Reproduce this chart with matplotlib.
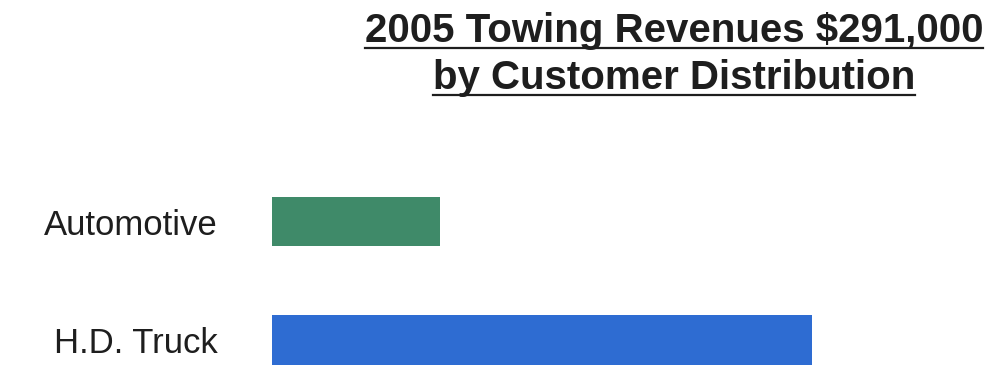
import matplotlib
matplotlib.use("Agg")
import matplotlib.pyplot as plt
from matplotlib.lines import Line2D

# data
categories = ["Automotive", "H.D. Truck"]
revenues = [69000, 222000]
bar_colors = ["#3f8a69", "#2e6cd2"]

title_lines = ["2005 Towing Revenues $291,000", "by Customer Distribution"]

plt.rcParams["font.family"] = ["Liberation Sans", "DejaVu Sans"]

fig = plt.figure(figsize=(9.93, 3.67), dpi=100)
ax = fig.add_axes([272 / 993, 0, 1 - 272 / 993, 200 / 367])

ax.barh(range(len(categories)), revenues, height=0.42, color=bar_colors)
ax.set_xlim(0, 296400)
ax.set_ylim(1.228, -0.46)
ax.set_yticks(range(len(categories)))
ax.set_yticklabels(categories, fontsize=25, color="#1e1e1e")
ax.tick_params(axis="y", length=0, pad=39)
ax.set_xticks([])
for s in ax.spines.values():
    s.set_visible(False)

# title with underlines
baselines = [1 - 42 / 367, 1 - 89 / 367]
renderer = fig.canvas.get_renderer()
for txt, yb in zip(title_lines, baselines):
    t = fig.text(0.679, yb, txt, ha="center", va="baseline", fontsize=29,
                 fontweight="bold", color="#1e1e1e")
    bb = t.get_window_extent(renderer=renderer).transformed(fig.transFigure.inverted())
    uy = yb - 6 / 367
    fig.add_artist(Line2D([bb.x0, bb.x1], [uy, uy], color="#1e1e1e", lw=1.6,
                          transform=fig.transFigure))

fig.savefig("out.png", dpi=100)
